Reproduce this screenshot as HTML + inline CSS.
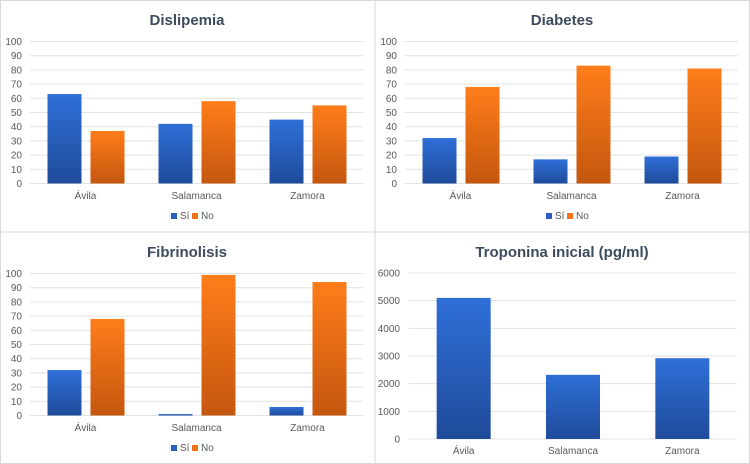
<!DOCTYPE html>
<html><head><meta charset="utf-8"><style>
body{margin:0;background:#fff;}
svg{display:block;font-family:"Liberation Sans",sans-serif;}
</style></head><body>
<svg id="c" width="750" height="464" xmlns="http://www.w3.org/2000/svg">
<defs>
<linearGradient id="gb" x1="0" y1="0" x2="0" y2="1"><stop offset="0" stop-color="#2f6fd8"/><stop offset="1" stop-color="#1f4b9a"/></linearGradient>
<linearGradient id="go" x1="0" y1="0" x2="0" y2="1"><stop offset="0" stop-color="#ff7d1a"/><stop offset="1" stop-color="#c4570f"/></linearGradient>
</defs>
</svg>
<script>
const categories=["Ávila","Salamanca","Zamora"];
const dislSi=[63,42,45];
const dislNo=[37,58,55];
const diabSi=[32,17,19];
const diabNo=[68,83,81];
const fibSi=[32,1,6];
const fibNo=[68,99,94];
const tropVals=[5100,2320,2920];
const pctTicks=[0,10,20,30,40,50,60,70,80,90,100];
const tropTicks=[0,1000,2000,3000,4000,5000,6000];

const svg=document.getElementById('c');
const NS="http://www.w3.org/2000/svg";
function mk(tag,attrs,parent){const e=document.createElementNS(NS,tag);for(const k in attrs)e.setAttribute(k,attrs[k]);(parent||svg).appendChild(e);return e;}

// panel borders
const frame=mk('g',{});


mk('rect',{x:0.5,y:0.5,width:749,height:463,fill:'none',stroke:'#d9d9d9'},frame);
mk('line',{x1:375,y1:0,x2:375,y2:464,stroke:'#d9d9d9'},frame);
mk('line',{x1:0,y1:232,x2:750,y2:232,stroke:'#d9d9d9'},frame);

function grouped(ox,oy,title,si,no,slug){
  const g=mk('g',{});
  
  
  const x0=ox+30,x1=ox+363,yTop=oy+41.5,yBot=oy+183.5;
  const ys=v=>yBot-(v/100)*(yBot-yTop);
  const t=mk('text',{x:ox+187,y:oy+25,'text-anchor':'middle','font-size':15,'font-weight':'bold',fill:'#3d4b5f'},g);
  t.textContent=title;
  
  
  pctTicks.forEach(v=>{
    mk('line',{x1:x0,x2:x1,y1:ys(v),y2:ys(v),stroke:'#e3e3e3'},g);
    const l=mk('text',{x:ox+22,y:ys(v)+3.5,'text-anchor':'end','font-size':10,fill:'#595959'},g);
    l.textContent=v;
    
    
  });
  const cw=(x1-x0)/categories.length;
  categories.forEach((c,i)=>{
    const cx=x0+cw*(i+0.5);
    const b1=mk('rect',{x:cx-38,y:ys(si[i]),width:34,height:yBot-ys(si[i]),fill:'url(#gb)'},g);
    
    
    const b2=mk('rect',{x:cx+5,y:ys(no[i]),width:34,height:yBot-ys(no[i]),fill:'url(#go)'},g);
    
    
    const l=mk('text',{x:cx,y:oy+199,'text-anchor':'middle','font-size':10,fill:'#595959'},g);
    l.textContent=c;
    
    
  });
  const lg=mk('g',{},g);
  
  
  mk('rect',{x:ox+171,y:oy+213,width:6,height:6,fill:'#2a5fbf'},lg);
  const s=mk('text',{x:ox+180,y:oy+219,'font-size':10,fill:'#595959'},lg);s.textContent='Sí';
  mk('rect',{x:ox+192,y:oy+213,width:6,height:6,fill:'#f0731a'},lg);
  const n=mk('text',{x:ox+201,y:oy+219,'font-size':10,fill:'#595959'},lg);n.textContent='No';
}
grouped(0,0,'Dislipemia',dislSi,dislNo,'dislipemia');
grouped(375,0,'Diabetes',diabSi,diabNo,'diabetes');
grouped(0,232,'Fibrinolisis',fibSi,fibNo,'fibrinolisis');

(function(){
  const ox=375,oy=232;
  const g=mk('g',{});
  
  
  const x0=ox+34,x1=ox+362,yTop=oy+41,yBot=oy+207;
  const ys=v=>yBot-(v/6000)*(yBot-yTop);
  const t=mk('text',{x:ox+187,y:oy+25,'text-anchor':'middle','font-size':15,'font-weight':'bold',fill:'#3d4b5f'},g);
  t.textContent='Troponina inicial (pg/ml)';
  
  
  tropTicks.forEach(v=>{
    mk('line',{x1:x0,x2:x1,y1:ys(v),y2:ys(v),stroke:'#e3e3e3'},g);
    const l=mk('text',{x:ox+25,y:ys(v)+3.5,'text-anchor':'end','font-size':10,fill:'#595959'},g);
    l.textContent=v;
    
    
  });
  const cw=(x1-x0)/categories.length;
  categories.forEach((c,i)=>{
    const cx=x0+cw*(i+0.5);
    const b=mk('rect',{x:cx-27,y:ys(tropVals[i]),width:54,height:yBot-ys(tropVals[i]),fill:'url(#gb)'},g);
    
    
    const l=mk('text',{x:cx,y:oy+222,'text-anchor':'middle','font-size':10,fill:'#595959'},g);
    l.textContent=c;
    
    
  });
})();
</script>
</body></html>
